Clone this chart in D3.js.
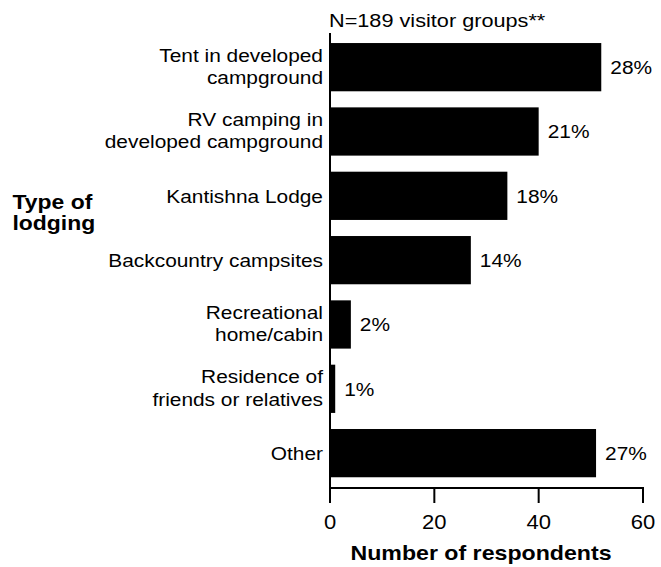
<!DOCTYPE html>
<html>
<head>
<meta charset="utf-8">
<script src="https://cdn.jsdelivr.net/npm/d3@7"></script>
<style>
  body { margin: 0; background: #fff; }
  text { font-family: "Liberation Sans", Arial, sans-serif; fill: #000; }
</style>
</head>
<body>
<div id="chart"></div>
<script>
// data
const categories = [
    "Tent in developed\ncampground",
    "RV camping in\ndeveloped campground",
    "Kantishna Lodge",
    "Backcountry campsites",
    "Recreational\nhome/cabin",
    "Residence of\nfriends or relatives",
    "Other"
];
const counts = [52, 40, 34, 27, 4, 1, 51];
const percents = ["28%", "21%", "18%", "14%", "2%", "1%", "27%"];
const tickValues = [0, 20, 40, 60];

const width = 661, height = 567;
const stretch = 1.13; // glyphs in the source are a bit wide

const svg = d3.select("#chart")
    .append("svg")
    .attr("width", width)
    .attr("height", height);

// x scale
const xScale = d3.scaleLinear()
    .domain([0, 60])
    .range([330, 643]);

// y scale
const yScale = d3.scaleBand()
    .domain(categories)
    .range([35, 485.3])
    .paddingInner(0.25)
    .paddingOuter(0.125);

// small helper, draws text squeezed out horizontally
function label(x, y, str, anchor, size, weight) {
    svg.append("g")
        .attr("transform", `translate(${x},${y}) scale(${stretch},1)`)
        .append("text")
        .attr("text-anchor", anchor)
        .attr("font-size", size + "px")
        .attr("font-weight", weight || "normal")
        .text(str);
}

//bars
svg.append("g")
    .selectAll("rect")
    .data(counts)
    .enter()
    .append("rect")
    .attr("x", xScale(0))
    .attr("y", (d, i) => yScale(categories[i]))
    .attr("width", d => xScale(d) - xScale(0))
    .attr("height", yScale.bandwidth())
    .attr("fill", "#000");

//axes
const axisY = 488;
svg.append("line")
    .attr("x1", xScale(0)).attr("x2", xScale(0))
    .attr("y1", 33).attr("y2", axisY + 1)
    .attr("stroke", "#000").attr("stroke-width", 2);

svg.append("line")
    .attr("x1", xScale(0) - 1).attr("x2", xScale(60) + 1)
    .attr("y1", axisY).attr("y2", axisY)
    .attr("stroke", "#000").attr("stroke-width", 2);

svg.append("g")
    .selectAll("line")
    .data(tickValues)
    .enter()
    .append("line")
    .attr("x1", d => xScale(d)).attr("x2", d => xScale(d))
    .attr("y1", axisY).attr("y2", axisY + 15)
    .attr("stroke", "#000").attr("stroke-width", 2);

tickValues.forEach(t => label(xScale(t), 529, t, "middle", 19.5));

//category labels
categories.forEach((c, i) => {
    const mid = yScale(c) + yScale.bandwidth() / 2;
    const lines = c.split("\n");
    if (lines.length === 1) {
        label(323, mid + 6.7, lines[0], "end", 18.5);
    } else {
        label(323, mid - 5.5, lines[0], "end", 18.5);
        label(323, mid + 17, lines[1], "end", 18.5);
    }
});

//percent labels
counts.forEach((d, i) => {
    const mid = yScale(categories[i]) + yScale.bandwidth() / 2;
    label(xScale(d) + 9, mid + 6.7, percents[i], "start", 18.5);
});

//titles
label(329, 27, "N=189 visitor groups**", "start", 19.2);
label(12.5, 209, "Type of", "start", 20.3, "bold");
label(12.5, 230, "lodging", "start", 20.3, "bold");
label(481, 560, "Number of respondents", "middle", 20.5, "bold");
</script>
</body>
</html>
